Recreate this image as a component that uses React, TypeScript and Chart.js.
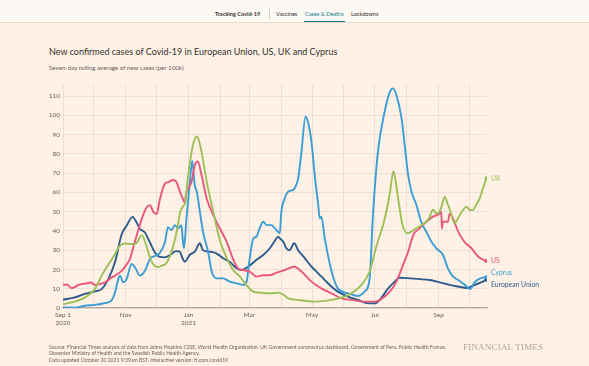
import React, { useEffect, useRef } from "react";
import { Chart, registerables } from "chart.js";
Chart.register(...registerables);

// x = days since 1 Sep 2020
const monthTickDays = [0, 30, 61, 91, 122, 153, 181, 212, 242, 273, 303, 334, 365, 395];
const monthTickLabels: (string | string[])[] = [
  ["Sep 1", "2020"], "", "Nov", "", ["Jan", "2021"], "", "Mar", "", "May", "", "Jul", "", "Sep", "",
];
const yTickValues = [0, 10, 20, 30, 40, 50, 60, 70, 80, 90, 100, 110];

const seriesNames = ["UK", "US", "Cyprus", "European Union"];

const ukDays = [0, 11.6, 21, 31, 37.5, 41, 45.6, 50.5, 55, 60, 66.7, 71.5, 76.4, 80, 84, 88, 92, 96, 100, 104, 108, 111, 114, 117, 119, 121, 124, 127, 130, 132, 135, 139.5, 146, 152, 159, 165, 172, 178, 185, 191, 201, 209, 214, 219, 228, 245, 261, 277, 290, 298, 304, 308, 311, 315, 318, 321, 323.5, 325.6, 330, 335, 343, 351, 356, 359.5, 363, 366, 368, 371, 373, 376, 380.6, 385.5, 389, 392, 395, 398, 402, 405, 408, 411.4];
const ukValues = [2, 3.3, 5.4, 9.8, 16.7, 20, 23.7, 28, 32.3, 33.5, 33.2, 33.7, 37.8, 34, 27, 22.5, 21.3, 22, 23, 27, 34, 41, 50, 53, 55, 66, 78, 86, 89, 87, 80, 66, 50, 36, 26, 20, 16.3, 12, 8.5, 8, 7.6, 8, 7, 5, 4.2, 3.3, 4.2, 6.7, 12, 19, 31, 38, 43, 52, 61, 71, 65, 57, 43, 38.8, 41.3, 44, 47, 51, 49, 50, 53, 57.8, 55, 51, 44, 48.3, 51, 52.6, 51, 50.8, 54, 57, 62, 67.3];

const usDays = [0, 4, 8, 12, 15, 23, 27, 31, 36, 41, 45, 50.5, 57, 61, 65, 68, 71.5, 76.4, 81, 84.5, 87.7, 91, 94, 98.4, 103, 107, 110, 113.6, 117, 118, 120, 125, 128, 131, 134.6, 139.5, 146, 152.4, 159, 165, 170, 175, 181.5, 188, 194.5, 201, 206, 215.5, 224.6, 231.7, 241.4, 251, 261, 270.6, 280.4, 293, 303, 308, 317.5, 324, 330.4, 335.4, 340.4, 346.5, 353, 359.5, 366, 367.5, 368.2, 369, 374, 375.7, 379, 384, 390, 397, 403.6, 411.4];
const usValues = [12, 12.2, 10.4, 11, 12, 12.8, 13.2, 12, 12.5, 13.3, 15, 16.8, 19.3, 22, 25.4, 31, 37.5, 46, 52, 53.4, 50, 48.7, 56, 64, 65.5, 66.4, 65.6, 60.4, 56, 55, 60, 65.6, 74, 76, 69, 57, 48.3, 41.3, 34.4, 25.8, 20.6, 19.7, 18.9, 16.3, 17, 17, 18, 19.7, 21.4, 18.9, 13.7, 10.2, 7.6, 5, 4.2, 3.3, 3.3, 4.2, 8.5, 13.7, 22.3, 29.2, 37.9, 41.3, 44.8, 47.4, 49, 50, 41.3, 44.8, 44.8, 49, 46.5, 39.6, 34.4, 31, 26.6, 24.4];

const cyprusDays = [0, 11.6, 21, 31, 41, 47, 50.5, 53.7, 55.3, 58.6, 61.8, 66.7, 70, 74.8, 79.6, 84.5, 89.3, 94, 99, 102, 105.5, 108.7, 112, 115, 116.5, 117.5, 120, 123, 125.6, 128, 130, 133, 136, 141, 144.5, 149, 155.6, 162, 168.6, 175, 178.4, 181, 184.8, 188, 191, 194.5, 198, 202.6, 206, 210.7, 212, 215.5, 218.8, 222, 225, 228.5, 231.7, 235.6, 238, 241.4, 244.6, 248, 249.5, 251, 254.4, 261, 267, 277, 286.7, 293, 298, 301, 306, 312.6, 317.5, 320.7, 324, 329, 332, 335.4, 338.6, 343.4, 348, 353, 358, 362.8, 369.3, 374, 379, 384, 390.5, 395.5, 400.5, 405.5, 411.4];
const cyprusValues = [0.3, 0.2, 1.2, 1.6, 2.6, 3.8, 8, 15, 16.8, 13.3, 15, 22.8, 21, 16.8, 19.3, 25.4, 27, 28.5, 34, 42, 40.5, 43, 41.3, 43, 35, 31, 46.5, 63.8, 76.3, 63.8, 60.4, 50, 39.6, 29.2, 18.9, 15.4, 15.4, 13.7, 12.8, 12, 13.7, 24, 36, 37, 41.3, 44.8, 43, 43, 41.3, 38.8, 49, 57, 60.4, 61, 62, 67.3, 81, 99.3, 96.7, 86.3, 69, 53.5, 46.5, 47.4, 36, 18.9, 10.2, 7.6, 6.2, 8.5, 15.4, 46.5, 81, 102, 112, 114, 110.5, 98.4, 84.6, 69, 60.4, 53.5, 44.8, 39.6, 34.4, 31, 27.5, 20.6, 16.3, 14.5, 12, 9.9, 13.7, 15.4, 16];

const euDays = [0, 11.6, 21, 31, 37.5, 44, 50.5, 57, 61.8, 67.6, 71.5, 74.8, 79.6, 84.5, 89.3, 94, 99, 104, 110, 113.6, 116, 118.4, 123, 128, 133, 136, 142.6, 149, 155.6, 162, 168.6, 173.5, 180, 188, 194.5, 201, 206, 209, 211, 214, 217, 220.3, 224.6, 228.5, 235, 241.4, 248, 254.4, 261, 267, 277, 286.7, 296.5, 303, 307.8, 316, 322.4, 327, 337, 346.5, 356.3, 366, 375.7, 385.5, 392, 398.4, 405, 411.4];
const euValues = [4.3, 5.5, 7.3, 8.6, 9.8, 15, 23.7, 38.3, 42.7, 47.3, 44.4, 41, 39.2, 34, 28.8, 26.5, 26.3, 27.5, 29.5, 29.2, 26, 24, 27.5, 29.2, 33.6, 30, 29.2, 28.4, 25.8, 24, 20.6, 19.7, 21.5, 25, 27.5, 31, 35, 37, 36, 34.4, 31, 30, 33.6, 30, 25.8, 21.5, 18, 14.5, 11, 8.5, 5.9, 4.2, 2.4, 2.4, 4.2, 10.2, 13.7, 15.7, 15.4, 15, 14.5, 13.3, 12, 11, 10.4, 11.6, 13, 14.7];

const seriesColors = ["#9dbf57", "#e8577e", "#3a9dd5", "#2b5b8c"];
const labelOffsets = [0, 0, -4, 5];

const FONT = "Lato, 'Open Sans', sans-serif";

export default function App() {
  const canvasRef = useRef<HTMLCanvasElement | null>(null);

  useEffect(() => {
    document.body.style.margin = "0";
    const canvas = canvasRef.current;
    if (!canvas) return;
    const allDays = [ukDays, usDays, cyprusDays, euDays];
    const allValues = [ukValues, usValues, cyprusValues, euValues];
    const datasets = seriesNames.map((name, i) => {
      const days = allDays[i];
      const vals = allValues[i];
      const last = days.length - 1;
      return {
        label: name,
        data: days.map((d, j) => ({ x: d, y: vals[j] })),
        borderColor: seriesColors[i],
        backgroundColor: seriesColors[i],
        borderWidth: 1.9,
        pointRadius: days.map((_, j) => (j === last ? 2 : 0)),
        pointHoverRadius: 0,
        pointBorderWidth: 0,
        tension: 0.3,
        cubicInterpolationMode: "monotone" as const,
        fill: false,
      };
    });

    const endLabels = {
      id: "endLabels",
      afterDatasetsDraw(chart: any) {
        const ctx = chart.ctx;
        ctx.save();
        ctx.font = `6.8px ${FONT}`;
        ctx.textAlign = "left";
        ctx.textBaseline = "middle";
        chart.data.datasets.forEach((ds: any, i: number) => {
          const meta = chart.getDatasetMeta(i);
          const pt = meta.data[meta.data.length - 1];
          ctx.fillStyle = seriesColors[i];
          ctx.fillText(ds.label, chart.chartArea.right + 4, pt.y + labelOffsets[i]);
        });
        ctx.restore();
      },
    };

    const chart = new Chart(canvas, {
      type: "line",
      data: { datasets },
      plugins: [endLabels],
      options: {
        animation: false,
        responsive: false,
        maintainAspectRatio: false,
        layout: { padding: { left: 30, right: 102, top: 84.5, bottom: 28 } },
        plugins: { legend: { display: false }, tooltip: { enabled: false }, title: { display: false } },
        scales: {
          x: {
            type: "linear",
            min: 0,
            max: 412,
            afterBuildTicks: (axis: any) => {
              axis.ticks = monthTickDays.map((v) => ({ value: v }));
            },
            afterFit: (s: any) => {
              s.height = 30;
            },
            ticks: {
              autoSkip: false,
              maxRotation: 0,
              padding: 3,
              color: "#66605c",
              font: { size: 6.5, family: FONT },
              callback: (v: any) => {
                const idx = monthTickDays.indexOf(Number(v));
                return idx >= 0 ? monthTickLabels[idx] : "";
              },
            },
            grid: { color: "#ecdfd3", lineWidth: 1, drawTicks: false },
            border: { display: true, color: "#b3aaa2", width: 1.2 },
          },
          y: {
            min: 0,
            max: 116,
            afterBuildTicks: (axis: any) => {
              axis.ticks = yTickValues.map((v) => ({ value: v }));
            },
            afterFit: (s: any) => {
              s.width = 33;
            },
            ticks: {
              padding: 3,
              color: "#66605c",
              font: { size: 6.5, family: FONT },
            },
            grid: { color: "#ecdfd3", lineWidth: 1, drawTicks: false },
            border: { display: false },
          },
        },
      },
    });
    return () => chart.destroy();
  }, []);

  const base: React.CSSProperties = { position: "absolute", whiteSpace: "nowrap", fontFamily: FONT, lineHeight: 1 };

  return (
    <div style={{ position: "fixed", left: 0, top: 0, width: 589, height: 366, background: "#fff1e5", overflow: "hidden" }}>
      <div style={{ position: "absolute", left: 0, top: 0, width: 589, height: 22, background: "#fcf8f4", borderBottom: "1.5px solid #e4dad0" }} />
      <div style={{ ...base, left: 215, top: 11, fontSize: 5.6, fontWeight: 700, color: "#33302e" }}>Tracking Covid-19</div>
      <div style={{ position: "absolute", left: 269, top: 9, width: 1, height: 10, background: "#d6ccc3" }} />
      <div style={{ ...base, left: 276, top: 11, fontSize: 5.6, color: "#33302e" }}>Vaccines</div>
      <div style={{ ...base, left: 305, top: 11, fontSize: 5.6, color: "#0f7c86" }}>Cases &amp; Deaths</div>
      <div style={{ position: "absolute", left: 304, top: 20.5, width: 41, height: 1.5, background: "#0f7c86" }} />
      <div style={{ ...base, left: 351, top: 11, fontSize: 5.6, color: "#33302e" }}>Lockdowns</div>

      <div style={{ ...base, left: 49, top: 47, fontSize: 9, color: "#33302e" }}>
        New confirmed cases of Covid-19 in European Union, US, UK and Cyprus
      </div>
      <div style={{ ...base, left: 49, top: 65, fontSize: 6.2, color: "#66605c" }}>
        Seven-day rolling average of new cases (per 100k)
      </div>

      <canvas ref={canvasRef} width={589} height={366} style={{ position: "absolute", left: 0, top: 0, width: 589, height: 366 }} />

      <div style={{ ...base, left: 49, top: 343.5, fontSize: 5.1, color: "#66605c", lineHeight: "6.5px" }}>
        Source: Financial Times analysis of data from Johns Hopkins CSSE, World Health Organization, UK Government coronavirus dashboard, Government of Peru, Public Health France,
        <br />
        Slovenian Ministry of Health and the Swedish Public Health Agency.
        <br />
        Data updated October 20 2021 9:39am BST. Interactive version: ft.com/covid19
      </div>
      <div style={{ ...base, left: 463, top: 342.5, fontSize: 9, color: "#aaa39c", fontFamily: "'Liberation Serif', 'DejaVu Serif', serif", letterSpacing: 0.2 }}>
        FINANCIAL TIMES
      </div>
    </div>
  );
}
